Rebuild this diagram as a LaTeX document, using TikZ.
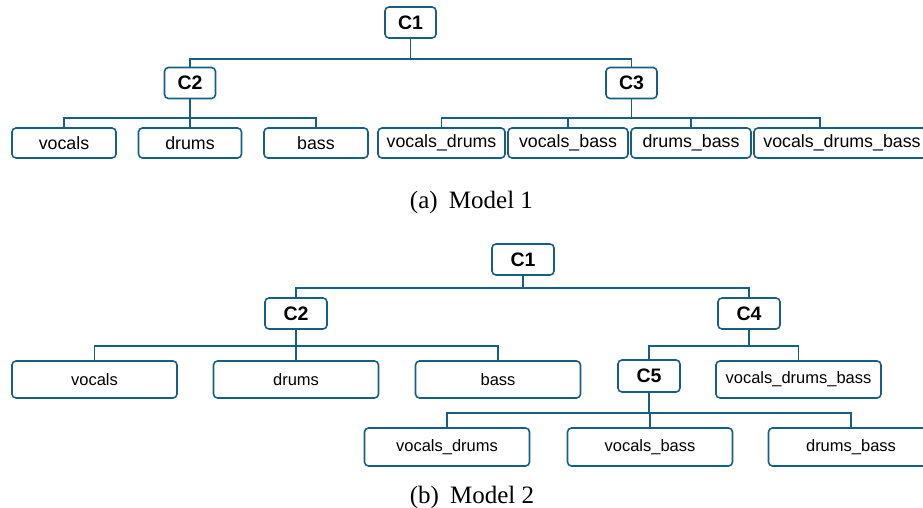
\documentclass[tikz,border=0pt]{standalone}
\usepackage{fontspec}
\setmainfont{Liberation Serif}
\newfontfamily\labelfont{Liberation Sans}
\definecolor{treeblue}{HTML}{156082}
\begin{document}
\begin{tikzpicture}[x=1pt,y=-1pt,
  box/.style={draw=treeblue,line width=1.6pt,rounded corners=4pt,fill=white,
    inner sep=0pt,align=center,text=black},
  ctop/.style={box,minimum width=51pt,minimum height=31pt,
    font=\labelfont\bfseries\fontsize{19.5}{21}\selectfont},
  cbot/.style={box,minimum width=62pt,minimum height=31pt,
    font=\labelfont\bfseries\fontsize{19.5}{21}\selectfont},
  leaftop/.style={box,minimum height=30pt,
    font=\labelfont\fontsize{17.8}{20}\selectfont},
  leafbot/.style={box,minimum width=165pt,minimum height=37pt,
    font=\labelfont\fontsize{16.5}{19}\selectfont},
  link/.style={draw=treeblue,line width=1.7pt},
  caption/.style={font=\fontsize{25}{29}\selectfont,anchor=base}]
\useasboundingbox (0,0) rectangle (923,508);

% ---------- Model 1 ----------
\node[ctop] (a1) at (410.5,22.5) {C1};
\node[ctop] (a2) at (190,83) {C2};
\node[ctop] (a3) at (631.5,83) {C3};

\node[leaftop,minimum width=104pt] (av)   at (64,143)    {vocals};
\node[leaftop,minimum width=103pt] (ad)   at (190,143)   {drums};
\node[leaftop,minimum width=104pt] (ab)   at (316,143)   {bass};
\node[leaftop,minimum width=127pt] (avd)  at (441.5,143) {vocals\_drums};
\node[leaftop,minimum width=120pt] (avb)  at (568,143)   {vocals\_bass};
\node[leaftop,minimum width=120pt] (adb)  at (691,143)   {drums\_bass};
\node[leaftop,minimum width=176pt] (avdb) at (842,143)   {vocals\_drums\_bass};
\coordinate (avdbin) at (820,128);

\draw[link] (a1.south) -- ++(0,20) -| (a2.north);
\draw[link] (a1.south) -- ++(0,20) -| (a3.north);
\foreach \c in {av,ad,ab}
  \draw[link] (a2.south) -- ++(0,19) -| (\c.north);
\foreach \c in {avd,avb,adb}
  \draw[link] (a3.south) -- ++(0,19) -| (\c.north);
\draw[link] (a3.south) -- ++(0,19) -| (avdbin);

\node[caption] (capa) at (471.5,208) {(a)\hspace{0.45em}Model 1};

% ---------- Model 2 ----------
\node[cbot] (b1) at (523,259.5) {C1};
\node[cbot] (b2) at (296,313.5) {C2};
\node[cbot] (b4) at (749,313.5) {C4};
\node[cbot,minimum height=32pt] (b5) at (649,376) {C5};

\node[leafbot] (bv)   at (94.5,379.5)  {vocals};
\node[leafbot] (bd)   at (296,379.5)   {drums};
\node[leafbot] (bb)   at (498,379.5)   {bass};
\node[leafbot] (bvdb) at (798.5,379.5) {vocals\_drums\_bass};

\node[leafbot,minimum height=38pt] (bvd) at (447,447) {vocals\_drums};
\node[leafbot,minimum height=38pt] (bvb) at (650,447) {vocals\_bass};
\node[leafbot,minimum height=38pt] (bdb) at (851,447) {drums\_bass};

\draw[link] (b1.south) -- ++(0,12) -| (b2.north);
\draw[link] (b1.south) -- ++(0,12) -| (b4.north);
\foreach \c in {bv,bd,bb}
  \draw[link] (b2.south) -- ++(0,16) -| (\c.north);
\foreach \c in {b5,bvdb}
  \draw[link] (b4.south) -- ++(0,16) -| (\c.north);
\foreach \c in {bvd,bvb,bdb}
  \draw[link] (b5.south) -- ++(0,20) -| (\c.north);

\node[caption] (capb) at (472,503) {(b)\hspace{0.45em}Model 2};
\end{tikzpicture}
\end{document}
